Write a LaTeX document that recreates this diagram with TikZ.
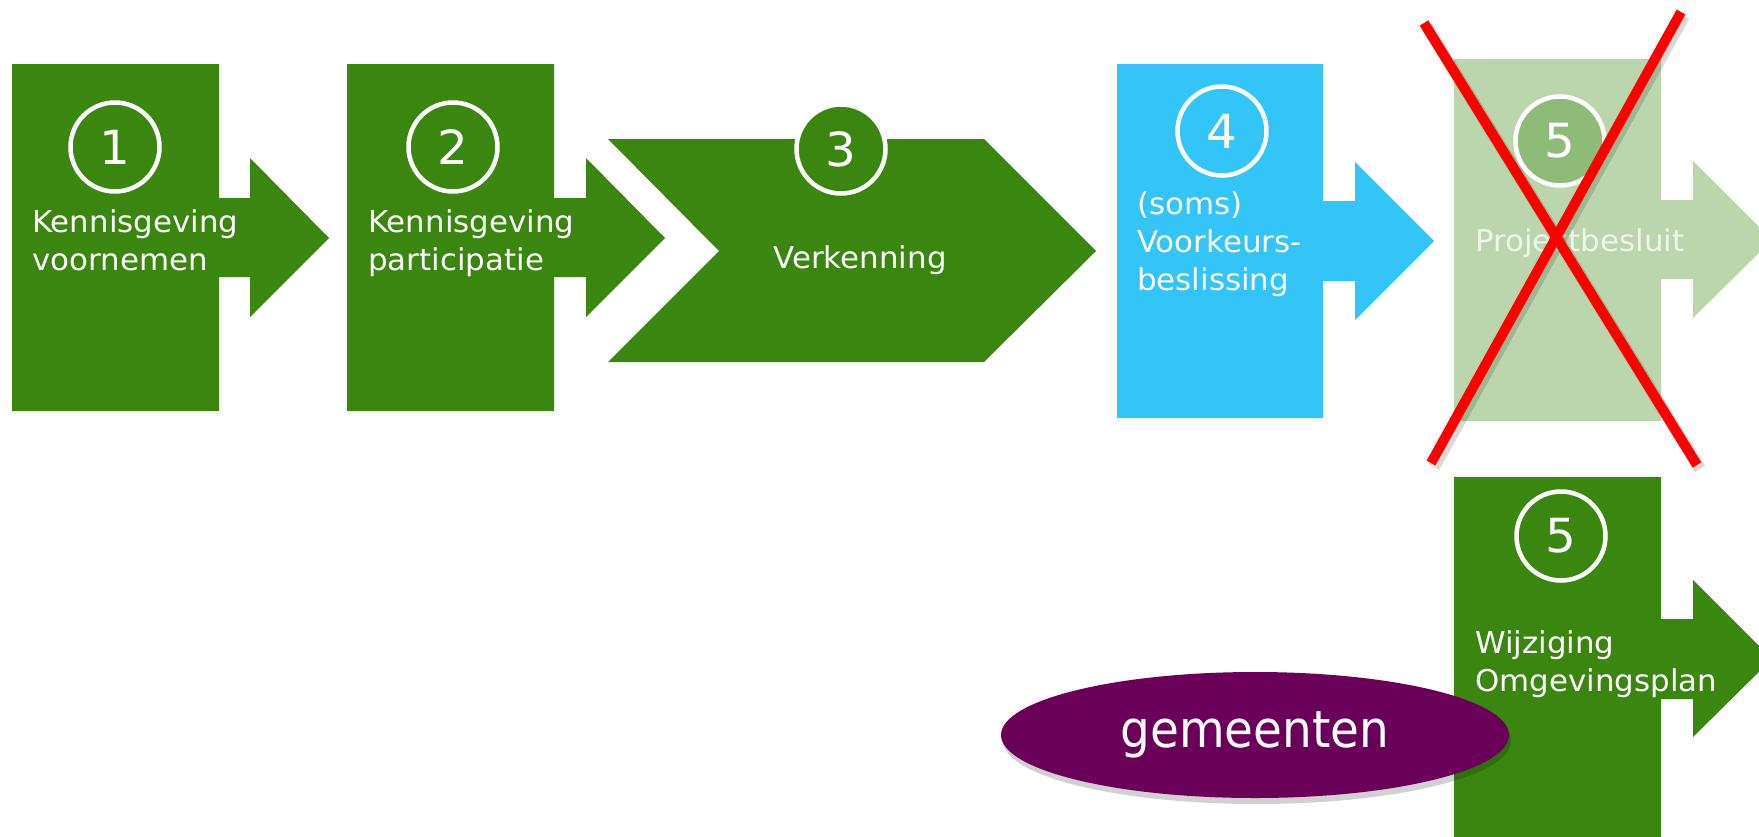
\documentclass[tikz,border=0pt]{standalone}
\usepackage{fontspec}
\setmainfont[FakeStretch=1.03]{DejaVu Sans}
\newfontfamily\gemfont[FakeStretch=0.92]{DejaVu Sans}
\usepackage{tikz}
\usetikzlibrary{shapes,calc}

\definecolor{Groen}{HTML}{3A8610}
\definecolor{Blauw}{HTML}{33C4F8}
\definecolor{Vaag}{HTML}{BBD6AD}
\definecolor{VaagNr}{HTML}{8EBB78}
\definecolor{Paars}{HTML}{6B0058}

\begin{document}
\begin{tikzpicture}[x=1pt,y=-1pt]

    \tikzset{NR/.style={circle,draw=white,line width=4.5pt,minimum size=89pt,inner sep=0pt,text=white,font=\fontsize{47}{47}\selectfont}}
    \tikzset{TX/.style={text=white,align=left,inner sep=0pt,anchor=base west,font=\fontsize{30}{38}\selectfont}}
    \tikzset{KR/.style={draw=red,line width=10pt}}
    \tikzset{SH/.style={draw=black,opacity=0.15,line width=12pt}}

    \clip (0,0) rectangle (1759,836);

    % stap 1
    \fill[Groen] (12,64) -- (219,64) -- (219,198) -- (250,198) -- (250,158) -- (329,238)
        -- (250,317) -- (250,277) -- (219,277) -- (219,411) -- (12,411) -- cycle;
    % stap 2
    \fill[Groen] (347,64) -- (554,64) -- (554,198) -- (586,198) -- (586,158) -- (665,238)
        -- (586,317) -- (586,277) -- (554,277) -- (554,411) -- (347,411) -- cycle;
    % stap 3
    \fill[Groen] (608,139) -- (984,139) -- (1096,251) -- (984,362) -- (608,362) -- (719,251) -- cycle;
    % stap 4
    \fill[Blauw] (1117,64) -- (1323,64) -- (1323,201) -- (1355,201) -- (1355,162) -- (1434,241)
        -- (1355,320) -- (1355,281) -- (1323,281) -- (1323,418) -- (1117,418) -- cycle;
    % stap 5 (vervalt)
    \fill[Vaag] (1454,59) -- (1661,59) -- (1661,200) -- (1693,200) -- (1693,161) -- (1772,240)
        -- (1693,318) -- (1693,279) -- (1661,279) -- (1661,421) -- (1454,421) -- cycle;
    % stap 5 (nieuw)
    \fill[Groen] (1454,477) -- (1661,477) -- (1661,619) -- (1693,619) -- (1693,580) -- (1772,659)
        -- (1693,737) -- (1693,699) -- (1661,699) -- (1661,850) -- (1454,850) -- cycle;

    \node (n1) [NR] at (115,147) {1};
    \node (n2) [NR] at (453,147) {2};
    \node (n3) [NR,fill=Groen] at (841,149) {3};
    \node (n4) [NR] at (1222,131) {4};
    \node (n5) [NR,fill=VaagNr] at (1560,141) {5};
    \node (n6) [NR] at (1561,536) {5};

    \node (t1) [TX] at (32,270) {Kennisgeving\\voornemen};
    \node (t2) [TX] at (368,270) {Kennisgeving\\participatie};
    \node (t3) [TX,anchor=base] at (860,268) {Verkenning};
    \node (t4) [TX] at (1137,290) {(soms)\\Voorkeurs-\\beslissing};
    \node (t5) [TX,text=white!75!Vaag] at (1475,251) {Projectbesluit};
    \node (t6) [TX] at (1475,691) {Wijziging\\Omgevingsplan};

    % kruis
    \draw[SH] (1427,27) -- (1700,469);
    \draw[SH] (1684,16) -- (1434,467);
    \draw[KR] (1424,23) -- (1697,465);
    \draw[KR] (1681,12) -- (1431,463);

    % gemeenten
    \fill[black,opacity=0.18] (1257,741) ellipse [x radius=254, y radius=63];
    \node (gem) [ellipse,fill=Paars,minimum width=508pt,minimum height=126pt,inner sep=0pt,
        text=white,font=\gemfont\fontsize{51}{51}\selectfont] at (1255,735) {gemeenten};
\end{tikzpicture}
\end{document}
